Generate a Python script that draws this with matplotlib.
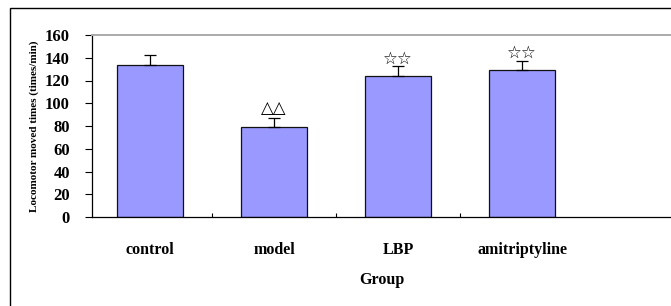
import matplotlib.pyplot as plt
from matplotlib.patches import Rectangle

# data
groups = ['control', 'model', 'LBP', 'amitriptyline']
means = [134, 79, 124, 129]
errs = [8, 8, 9, 8]
marks = ['', '\u25b3\u25b3', '\u2606\u2606', '\u2606\u2606']
mark_y = [0, 96, 139, 144]

plt.rcParams['font.family'] = ['Liberation Serif', 'DejaVu Sans']
plt.rcParams['font.weight'] = 'bold'

fig = plt.figure(figsize=(6.71, 3.06), dpi=100)
W, H = 671, 306

# outer frame (cropped on right and bottom in the reference)
fig.patches.append(Rectangle((10 / W, -0.1), 1.2, 1 - 8 / H + 0.1, transform=fig.transFigure,
                             fill=False, edgecolor='black', linewidth=1.0))

ax = fig.add_axes([92 / W, 1 - 217 / H, 1 - 92 / W, (217 - 35) / H])
x = range(len(groups))
ax.bar(x, means, width=0.53, color='#9999ff', edgecolor='#111111', linewidth=0.9, zorder=2)
ax.errorbar(x, means, yerr=[[0] * 4, errs], fmt='none', ecolor='black', elinewidth=0.9,
            capsize=4, capthick=0.9, zorder=3)
for i, m in enumerate(marks):
    if m:
        ax.text(i, mark_y[i], m, ha='center', va='center', fontsize=12,
                family=['DejaVu Sans'], fontweight='normal', zorder=4)

left = -0.5 + 4 / 124
ax.set_xlim(left, left + (W - 92) / 124)
ax.set_ylim(0, 160)
ax.set_yticks(range(0, 161, 20))
ax.set_xticks([0, 1, 2, 3])
ax.set_xticklabels(groups, fontsize=11.5, fontweight='bold')
ax.set_xticks([0.5, 1.5, 2.5], minor=True)
ax.tick_params(axis='x', which='major', length=0, pad=18)
ax.tick_params(axis='x', which='minor', direction='in', length=3, width=0.8)
ax.tick_params(axis='y', direction='out', length=5, width=0.8, labelsize=12, pad=11)
for lab in ax.get_yticklabels():
    lab.set_fontweight('bold')

ax.spines['right'].set_visible(False)
ax.spines['top'].set_color('#aaaaaa')
ax.spines['top'].set_linewidth(1.4)
ax.spines['left'].set_linewidth(0.9)
ax.spines['bottom'].set_linewidth(0.9)

ax.set_xlabel('Group', fontsize=11.5, fontweight='bold', labelpad=10)
ax.set_ylabel('Locomotor moved times (times/min)', fontsize=8, fontweight='bold', labelpad=4)

fig.savefig('out.png', dpi=100)
